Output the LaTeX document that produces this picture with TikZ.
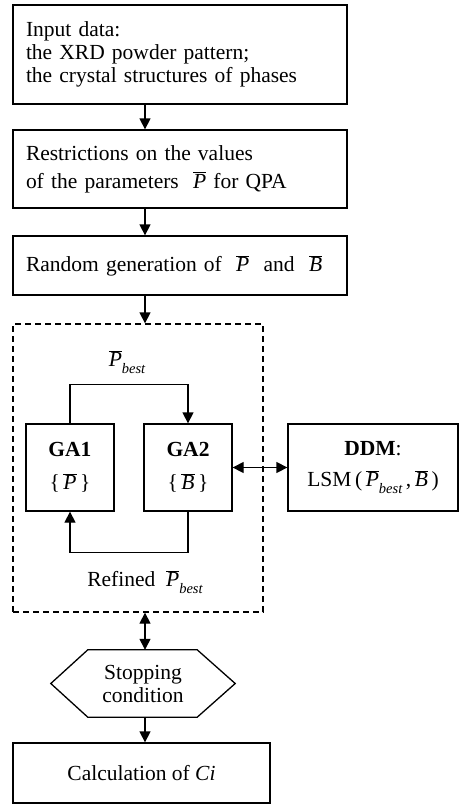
\documentclass[tikz,border=0pt]{standalone}
\usepackage{fontspec}
\setmainfont{Liberation Serif}
\usetikzlibrary{arrows.meta}
\newcommand\oP{\ensuremath{\overline{\mbox{\itshape P}}}}
\newcommand\oB{\ensuremath{\overline{\mbox{\itshape B}}}}
\newcommand\oPb{\ensuremath{\overline{\mbox{\itshape P}}}\raisebox{-7pt}{\fontsize{14.5}{14.5}\selectfont\itshape best}}
\begin{document}
\begin{tikzpicture}[x=1pt,y=-1pt,
  font=\fontsize{21.5}{23}\selectfont,
  box/.style={draw, line width=1.3pt, inner sep=0pt},
  conn/.style={line width=1.3pt},
  arr/.style={line width=1.3pt, -{Triangle[length=11pt,width=11pt]}},
  darr/.style={line width=1.3pt, {Triangle[length=11pt,width=11pt]}-{Triangle[length=11pt,width=11pt]}}]
\useasboundingbox (0,0) rectangle (461,804);
\coordinate (ax) at (145,0);
\node[box, minimum width=334pt, minimum height=99pt, text width=308pt, align=left] (b1) at (180,54.5)
  {Input data:\\the XRD powder pattern;\\the crystal structures of phases};
\node[box, minimum width=334pt, minimum height=78pt, text width=308pt, align=left] (b2) at (180,169)
  {Restrictions on the values\\[5pt]of the parameters \ \oP{} for QPA};
\node[box, minimum width=334pt, minimum height=59pt, text width=308pt, align=left] (b3) at (180,265.5)
  {Random generation of \ \oP{} \ and \ \oB};
\node[draw, line width=1.3pt, dash pattern=on 6pt off 4pt, minimum width=250pt, minimum height=288pt, inner sep=0pt] (loop) at (138,468) {};
\node[box, minimum width=88pt, minimum height=87pt, align=center] (ga1) at (70,467.5)
  {\textbf{GA1}\\[10pt]\{\,\oP\,\}};
\node[box, minimum width=88pt, minimum height=87pt, align=center] (ga2) at (188,467.5)
  {\textbf{GA2}\\[10pt]\{\,\oB\,\}};
\node[box, minimum width=170pt, minimum height=87pt, align=center] (ddm) at (373,467.5)
  {\textbf{DDM}:\\[8pt]LSM\,(\,\oPb\,,\,\oB\,)};
\node (pb) at (127,362) {\oPb};
\node (rf) at (145,582) {Refined \ \oPb};
\node[minimum width=184pt, minimum height=67pt, align=center, inner sep=0pt] (stop) at (143,683.5)
  {Stopping\\condition};
\draw[conn] (stop.west) -- ([xshift=37pt]stop.north west) -- ([xshift=-38pt]stop.north east)
  -- (stop.east) -- ([xshift=-38pt]stop.south east) -- ([xshift=37pt]stop.south west) -- cycle;
\node[box, minimum width=257pt, minimum height=60pt] (b5) at (141.5,773) {Calculation of \textit{Ci}};
\draw[arr] (b1.south -| ax) -- (b2.north -| ax);
\draw[arr] (b2.south -| ax) -- (b3.north -| ax);
\draw[arr] (b3.south -| ax) -- (loop.north -| ax);
\draw[darr] (loop.south -| ax) -- (stop.north -| ax);
\draw[arr] (stop.south -| ax) -- (b5.north -| ax);
\draw[darr] (ga2.east) -- (ddm.west);
\draw[arr] (ga1.north) -- ++(0,-39) -| (ga2.north);
\draw[arr] (ga2.south) -- ++(0,41) -| (ga1.south);
\end{tikzpicture}
\end{document}
